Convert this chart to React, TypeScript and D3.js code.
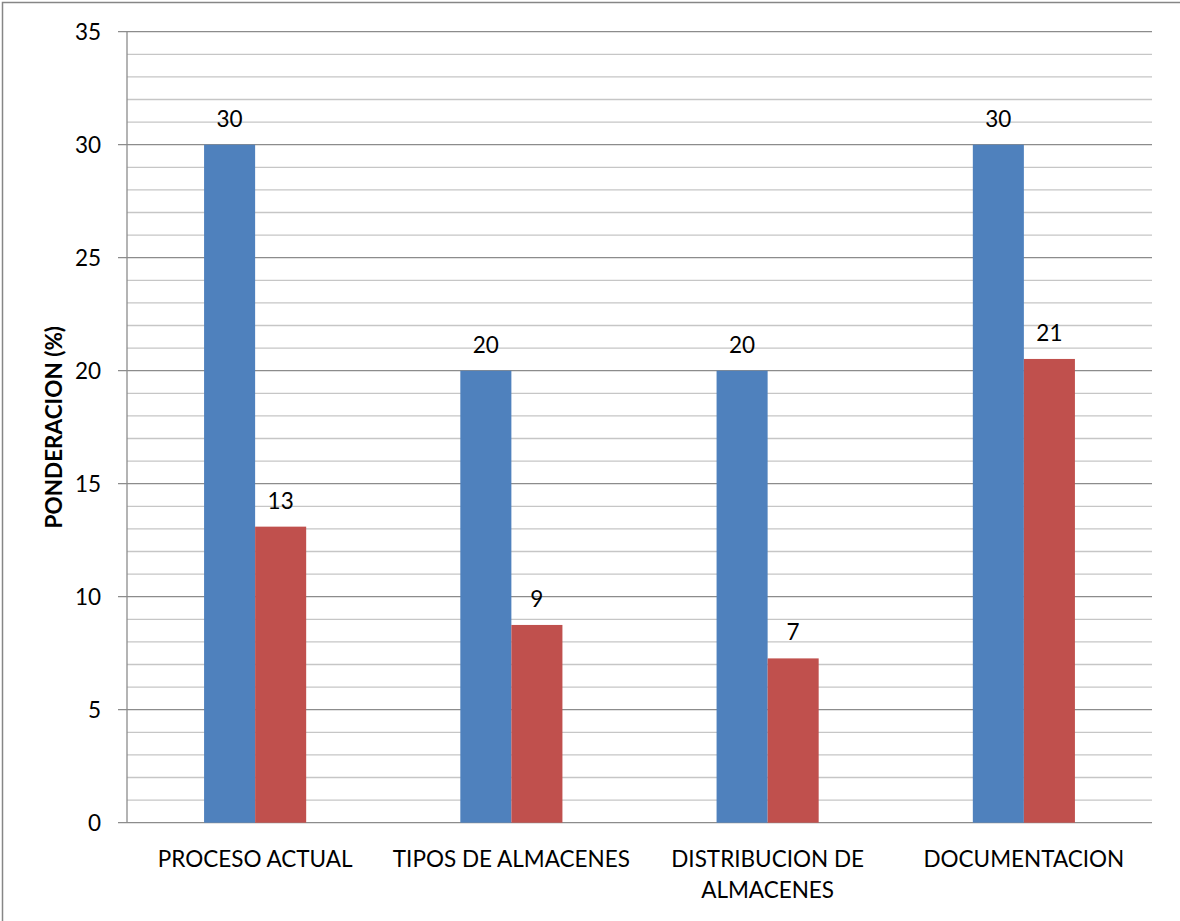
import React from "react";
import * as d3 from "d3";

const categories: string[][] = [
  ["PROCESO ACTUAL"],
  ["TIPOS DE ALMACENES"],
  ["DISTRIBUCION DE", "ALMACENES"],
  ["DOCUMENTACION"],
];
const ponderacionMax = [30, 20, 20, 30];
const ponderacionObtenida = [13.1, 8.75, 7.27, 20.52];
const yTicks = [0, 5, 10, 15, 20, 25, 30, 35];
const yTitle = "PONDERACION (%)";

const W = 1180;
const H = 921;
const M = { left: 127, right: 1152, top: 31.7, bottom: 822.7 };
const FONT = "Lato, 'Open Sans', sans-serif";
const FS = 22.5;

export default function App() {
  const idx = categories.map((_, i) => i);
  const x = d3.scaleBand<number>().domain(idx).range([M.left, M.right]).paddingInner(0).paddingOuter(0);
  const y = d3.scaleLinear().domain([0, 35]).range([M.bottom, M.top]);
  const groupW = x.bandwidth() * (102 / 256);
  const barW = groupW / 2;
  const minor = d3.range(0, 36, 1).filter((v) => v % 5 !== 0);
  const fmt = d3.format(".0f");

  const series = [
    { values: ponderacionMax, color: "#4F81BD" },
    { values: ponderacionObtenida, color: "#C0504D" },
  ];

  return (
    <svg width={W} height={H} style={{ position: "absolute", left: 0, top: 0, background: "#fff" }}>
      <rect x={2.5} y={2.5} width={W} height={H} fill="#fff" stroke="#868686" strokeWidth={1.5} />
      {minor.map((v) => (
        <line key={"m" + v} x1={M.left} x2={M.right} y1={y(v)} y2={y(v)} stroke="#C6C6C6" strokeWidth={1.3} />
      ))}
      {yTicks.map((v) => (
        <g key={"t" + v}>
          <line x1={M.left - 9} x2={M.right} y1={y(v)} y2={y(v)} stroke="#8C8C8C" strokeWidth={1.3} />
          <text x={101} y={y(v)} dy="0.36em" textAnchor="end" fontFamily={FONT} fontSize={FS} fill="#000">
            {v}
          </text>
        </g>
      ))}
      <line x1={M.left} x2={M.left} y1={M.top} y2={M.bottom} stroke="#8C8C8C" strokeWidth={1.3} />
      {series.map((s, si) =>
        s.values.map((v, i) => {
          const bx = (x(i) as number) + x.bandwidth() / 2 - groupW / 2 + si * barW;
          return (
            <g key={si + "-" + i}>
              <rect x={bx} y={y(v)} width={barW} height={y(0) - y(v)} fill={s.color} />
              <text x={bx + barW / 2} y={y(v) - 18} textAnchor="middle" fontFamily={FONT} fontSize={FS} fill="#000">
                {fmt(v)}
              </text>
            </g>
          );
        })
      )}
      {categories.map((lines, i) => (
        <text key={"c" + i} x={(x(i) as number) + x.bandwidth() / 2} y={867} textAnchor="middle" fontFamily={FONT} fontSize={FS} fill="#000">
          {lines.map((ln, j) => (
            <tspan key={j} x={(x(i) as number) + x.bandwidth() / 2} dy={j === 0 ? 0 : 31}>
              {ln}
            </tspan>
          ))}
        </text>
      ))}
      <text
        transform={`translate(62,${(M.top + M.bottom) / 2}) rotate(-90)`}
        textAnchor="middle"
        fontFamily={FONT}
        fontSize={FS}
        fontWeight="bold"
        fill="#000"
      >
        {yTitle}
      </text>
    </svg>
  );
}
